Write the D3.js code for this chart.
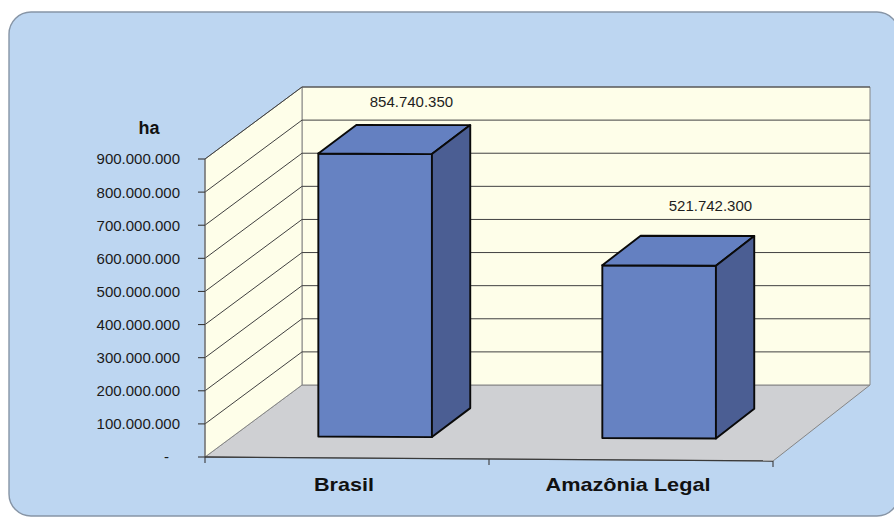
<!DOCTYPE html>
<html>
<head>
<meta charset="utf-8">
<script src="https://cdn.jsdelivr.net/npm/d3@7"></script>
<style>
  html, body { margin: 0; padding: 0; background: #ffffff; }
  svg { display: block; }
  text { font-family: "Liberation Sans", Arial, Helvetica, sans-serif; }
</style>
</head>
<body>
<svg id="chart" width="894" height="518"></svg>
<script>
// Área territorial (ha)
const categories = ["Brasil", "Amazônia Legal"];
const areaHa = [854740350, 521742300];
const yTicks = [0, 100000000, 200000000, 300000000, 400000000, 500000000,
                600000000, 700000000, 800000000, 900000000];
const yUnit = "ha";

const ptBR = d3.formatLocale({ decimal: ",", thousands: ".", grouping: [3], currency: ["R$", ""] });
const fmtInt = ptBR.format(",d");
const fmtTick = v => (v === 0 ? "-" : fmtInt(v));

const svg = d3.select("#chart");

// panel background
svg.append("rect")
  .attr("x", 9).attr("y", 12)
  .attr("width", 890).attr("height", 504)
  .attr("rx", 22).attr("ry", 22)
  .attr("fill", "#bdd6f1")
  .attr("stroke", "#8795a6")
  .attr("stroke-width", 1.4);

// oblique 3D projection: x along the category axis, value up, depth d in [0,1]
const origin = [205, 457];
const plotW = 568;
const depth = [97, -72];
const slope = 4 / plotW;

const hScale = d3.scaleLinear().domain([0, 900000000]).range([0, 298]);
const xBars = d3.scaleBand().domain(categories).range([0, plotW])
  .paddingInner(0.6).paddingOuter(0.3);
const xCats = d3.scaleBand().domain(categories).range([0, plotW]).padding(0);

function P(x, v, d) {
  return [
    origin[0] + x + depth[0] * d,
    origin[1] + slope * x * (1 - d) - hScale(v) + depth[1] * d
  ];
}
const poly = pts => "M" + pts.map(p => p[0].toFixed(2) + "," + p[1].toFixed(2)).join("L") + "Z";
const seg = (a, b) => "M" + a[0] + "," + a[1] + "L" + b[0] + "," + b[1];

const vMax = hScale.domain()[1];

// walls and floor
const g = svg.append("g");
g.append("path") // floor
  .attr("d", poly([P(0, 0, 0), P(plotW, 0, 0), P(plotW, 0, 1), P(0, 0, 1)]))
  .attr("fill", "#cfd0d3").attr("stroke", "#858585").attr("stroke-width", 1);
g.append("path") // back wall
  .attr("d", poly([P(0, 0, 1), P(plotW, 0, 1), P(plotW, vMax, 1), P(0, vMax, 1)]))
  .attr("fill", "#fefee9").attr("stroke", "#858585").attr("stroke-width", 1);
g.append("path") // side wall
  .attr("d", poly([P(0, 0, 0), P(0, 0, 1), P(0, vMax, 1), P(0, vMax, 0)]))
  .attr("fill", "#fefee9").attr("stroke", "#858585").attr("stroke-width", 1);

// gridlines on both walls
const grid = g.append("g").attr("fill", "none").attr("stroke", "#404040").attr("stroke-width", 1);
yTicks.filter(v => v > 0).forEach(v => {
  grid.append("path").attr("d", seg(P(0, v, 0), P(0, v, 1)));
  grid.append("path").attr("d", seg(P(0, v, 1), P(plotW, v, 1)));
});

// value axis (front edge of side wall)
const yAxis = svg.append("g");
yAxis.append("path")
  .attr("d", seg(P(0, 0, 0), P(0, vMax, 0)))
  .attr("stroke", "#6e6e6e").attr("stroke-width", 1.2);
yTicks.forEach(v => {
  const p = P(0, v, 0);
  yAxis.append("path").attr("d", seg([p[0] - 7, p[1]], p))
    .attr("stroke", "#3a3a3a").attr("stroke-width", 1.1);
  yAxis.append("text")
    .attr("x", v === 0 ? p[0] - 36 : p[0] - 25)
    .attr("y", p[1])
    .attr("dy", "0.36em")
    .attr("text-anchor", "end")
    .attr("font-size", 15)
    .attr("fill", "#1a1a1a")
    .text(fmtTick(v));
});
svg.append("text")
  .attr("x", P(0, vMax, 0)[0] - 56)
  .attr("y", P(0, vMax, 0)[1] - 25)
  .attr("text-anchor", "middle")
  .attr("font-size", 18).attr("font-weight", "bold")
  .attr("fill", "#111")
  .text(yUnit);

// bars
const dFront = 0.29, dBack = 0.685;
const bars = svg.append("g")
  .attr("stroke", "#0a0a0a").attr("stroke-width", 1.9).attr("stroke-linejoin", "round");
categories.forEach((c, i) => {
  const xa = xBars(c), xb = xa + xBars.bandwidth(), v = areaHa[i];
  const bar = bars.append("g");
  bar.append("path") // front face
    .attr("d", poly([P(xa, 0, dFront), P(xb, 0, dFront), P(xb, v, dFront), P(xa, v, dFront)]))
    .attr("fill", "#6682c2");
  bar.append("path") // top face
    .attr("d", poly([P(xa, v, dFront), P(xb, v, dFront), P(xb, v, dBack), P(xa, v, dBack)]))
    .attr("fill", "#6480c1");
  bar.append("path") // side face
    .attr("d", poly([P(xb, 0, dFront), P(xb, 0, dBack), P(xb, v, dBack), P(xb, v, dFront)]))
    .attr("fill", "#4b5e93");

  // value label above the bar
  const topMid = P((xa + xb) / 2, v, dBack);
  svg.append("text")
    .attr("x", topMid[0] + (i === 0 ? -2 : 13))
    .attr("y", topMid[1] - (i === 0 ? 18 : 25))
    .attr("text-anchor", "middle")
    .attr("font-size", 15)
    .attr("fill", "#1e1e1e")
    .text(fmtInt(v));
});

// category axis (front edge of floor)
const xAxis = svg.append("g");
xAxis.append("path")
  .attr("d", seg(P(0, 0, 0), P(plotW, 0, 0)))
  .attr("stroke", "#3a3a3a").attr("stroke-width", 1.3);
[0, ...categories.map(c => xCats(c) + xCats.bandwidth())].forEach(x => {
  const p = P(x, 0, 0);
  xAxis.append("path").attr("d", seg(p, [p[0], p[1] + 6]))
    .attr("stroke", "#3a3a3a").attr("stroke-width", 1.1);
});
const catWidths = { "Brasil": 60, "Amazônia Legal": 165 };
categories.forEach(c => {
  const p = P(xCats(c) + xCats.bandwidth() / 2, 0, 0);
  xAxis.append("text")
    .attr("x", p[0] - 3)
    .attr("y", 491)
    .attr("text-anchor", "middle")
    .attr("font-size", 19).attr("font-weight", "bold")
    .attr("fill", "#111")
    .attr("textLength", catWidths[c])
    .attr("lengthAdjust", "spacingAndGlyphs")
    .text(c);
});
</script>
</body>
</html>
